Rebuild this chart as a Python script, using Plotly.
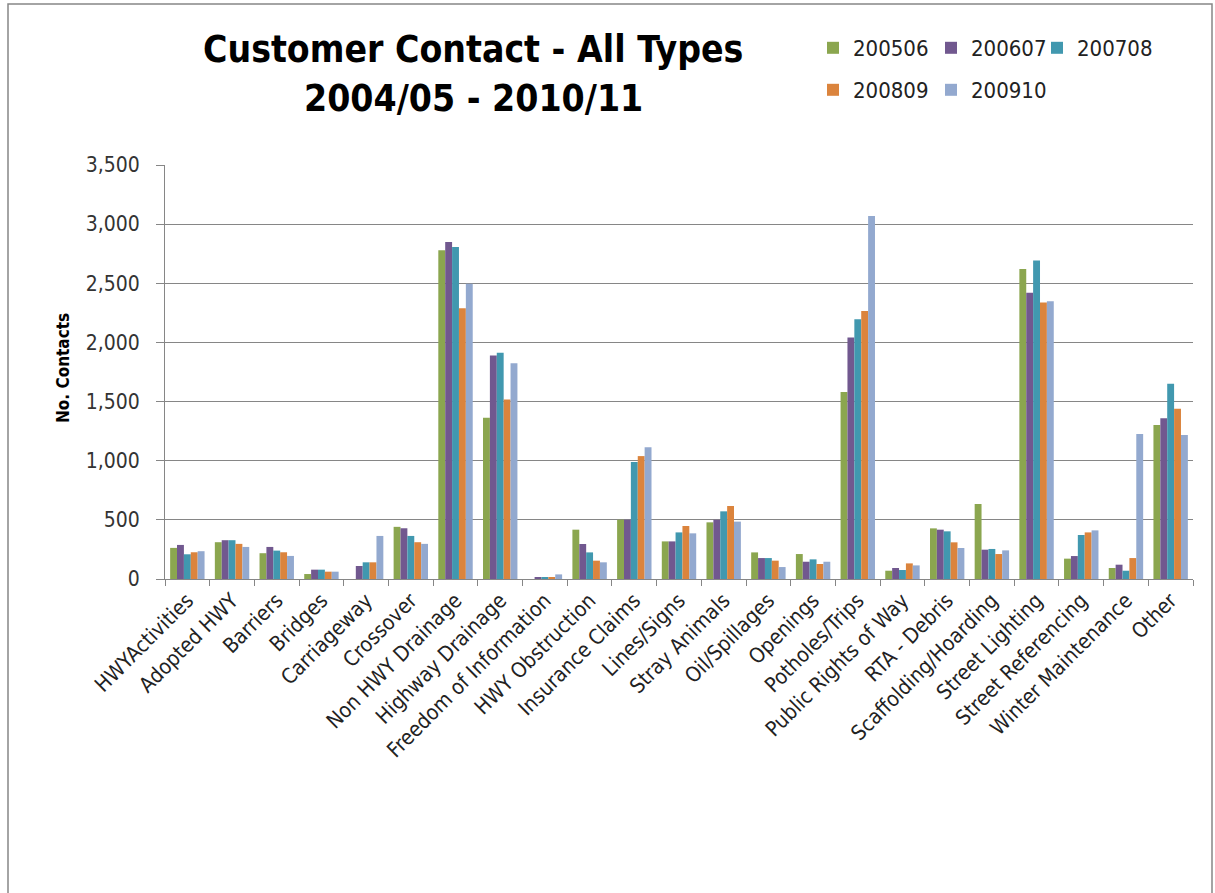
import plotly.graph_objects as go

categories = ["HWYActivities", "Adopted HWY", "Barriers", "Bridges", "Carriageway", "Crossover",
              "Non HWY Drainage", "Highway Drainage", "Freedom of Information", "HWY Obstruction",
              "Insurance Claims", "Lines/Signs", "Stray Animals", "Oil/Spillages", "Openings",
              "Potholes/Trips", "Public Rights of Way", "RTA - Debris", "Scaffolding/Hoarding",
              "Street Lighting", "Street Referencing", "Winter Maintenance", "Other"]

s200506 = [263, 311, 218, 42, 0, 441, 2780, 1363, 0, 417, 501, 318, 479, 225, 211, 1580, 70, 428, 634, 2620, 172, 93, 1301]
s200607 = [288, 328, 271, 79, 110, 429, 2848, 1890, 17, 296, 501, 318, 501, 177, 146, 2042, 93, 417, 248, 2420, 194, 121, 1358]
s200708 = [209, 328, 240, 79, 141, 364, 2806, 1913, 17, 225, 989, 394, 572, 177, 166, 2197, 76, 403, 254, 2693, 372, 70, 1651]
s200809 = [226, 297, 226, 62, 141, 311, 2290, 1518, 17, 155, 1039, 448, 617, 155, 127, 2265, 132, 310, 211, 2338, 394, 177, 1439]
s200910 = [235, 271, 195, 62, 364, 297, 2496, 1823, 39, 141, 1113, 386, 485, 101, 146, 3068, 115, 262, 242, 2349, 411, 1225, 1217]

series_names = ["200506", "200607", "200708", "200809", "200910"]
series_values = [s200506, s200607, s200708, s200809, s200910]
colors = ["#8BA64F", "#71588F", "#4198AF", "#DB843D", "#93A9CF"]

title_lines = ["Customer Contact - All Types", "2004/05 - 2010/11"]
y_title = "No. Contacts"

W, H = 1215, 893
L, R, T, B = 165, 22, 165, 314

# legend entry positions (container pixels): left edge, vertical centre
legend_pos = [(813, 48), (931, 48), (1037, 48), (813, 90), (931, 90)]
legend_ids = ["legend"] + ["legend%d" % i for i in range(2, 6)]

fig = go.Figure()
for name, vals, col, lg in zip(series_names, series_values, colors, legend_ids):
    fig.add_trace(go.Bar(x=categories, y=vals, name=name, marker=dict(color=col, line=dict(width=0)),
                         legend=lg, showlegend=True))

font_main = "DejaVu Sans Condensed, DejaVu Sans, sans-serif"
legend_common = dict(orientation="h", xref="container", yref="container", xanchor="left", yanchor="middle",
                     font=dict(family=font_main, size=22, color="#222"), bgcolor="rgba(0,0,0,0)",
                     itemwidth=30)
legends = {lg: dict(x=px / W, y=1 - py / H, **legend_common) for lg, (px, py) in zip(legend_ids, legend_pos)}

fig.update_layout(
    width=W, height=H, showlegend=True,
    margin=dict(l=L, r=R, t=T, b=B, autoexpand=False),
    paper_bgcolor="white", plot_bgcolor="white",
    barmode="group", bargap=0.23, bargroupgap=0,
    xaxis=dict(showline=True, linecolor="#868686", linewidth=1, ticks="outside", tickson="boundaries",
               ticklen=6, tickcolor="#868686", tickangle=-45,
               tickfont=dict(family=font_main, size=21, color="#222"), showgrid=False),
    yaxis=dict(range=[0, 3500], dtick=500, tickformat=",d", showline=True, linecolor="#868686", linewidth=1,
               ticks="outside", ticklen=8, tickcolor="#868686", showgrid=True, gridcolor="#868686",
               gridwidth=1, zeroline=False, ticklabelstandoff=12,
               tickfont=dict(family=font_main, size=21, color="#333")),
    annotations=[
        dict(text="<b>%s</b>" % title_lines[0], xref="paper", yref="paper", showarrow=False,
             x=(473 - L) / (W - L - R), y=(H - B - 49) / (H - T - B), xanchor="center", yanchor="middle",
             font=dict(family=font_main, size=37, color="black")),
        dict(text="<b>%s</b>" % title_lines[1], xref="paper", yref="paper", showarrow=False,
             x=(473 - L) / (W - L - R), y=(H - B - 99) / (H - T - B), xanchor="center", yanchor="middle",
             font=dict(family=font_main, size=37, color="black")),
        dict(text="<b>%s</b>" % y_title, xref="paper", yref="paper", showarrow=False, textangle=-90,
             x=(63 - L) / (W - L - R), y=(H - B - 368) / (H - T - B), xanchor="center", yanchor="middle",
             font=dict(family=font_main, size=17, color="black")),
    ],
    shapes=[dict(type="rect", xref="paper", yref="paper",
                 x0=(8 - L) / (W - L - R), x1=(1212 - L) / (W - L - R),
                 y0=(H - B - 896) / (H - T - B), y1=(H - B - 4) / (H - T - B),
                 line=dict(color="#868686", width=1.5), fillcolor="rgba(0,0,0,0)", layer="below")],
    **legends,
)

fig.write_html("out.html", config={"displayModeBar": False},
               post_script="document.body.style.margin='0';document.body.style.overflow='hidden';")
